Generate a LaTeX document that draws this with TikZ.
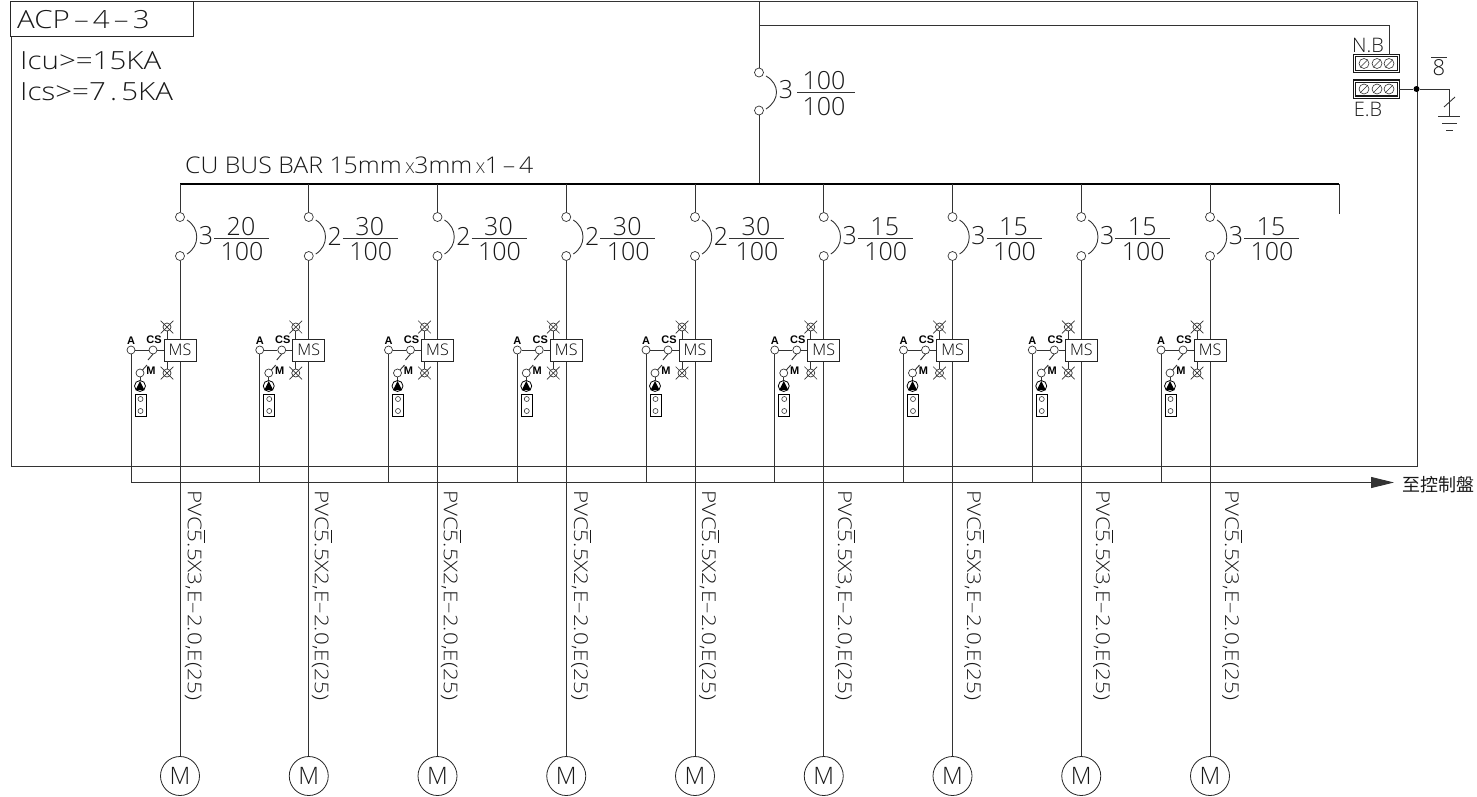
\documentclass[tikz,border=0pt]{standalone}
\usepackage{amsmath}
\usepackage{fontspec}
\setmainfont{Open Sans Light}
\newfontfamily\widefont[FakeStretch=1.18]{Open Sans Light}
\newfontfamily\busfont[FakeStretch=1.08]{Open Sans Light}
\newfontfamily\boldfont{Liberation Sans Bold}
\newfontfamily\cjkfont{Noto Sans CJK TC}
\usepackage{tikz}
\usetikzlibrary{arrows.meta,shapes.misc}

\tikzset{
  wire/.style={line width=0.9pt,black!80},
  term/.style={circle,draw=black!80,line width=0.7pt,fill=white,inner sep=0pt,minimum size=9pt},
  smallterm/.style={term,minimum size=8pt},
  lampx/.style={cross out,draw=black!80,line width=0.7pt,inner sep=0pt,minimum size=12pt},
  numtext/.style={inner sep=0pt,text=black!90,font=\fontsize{25}{25}\selectfont},
  headtext/.style={numtext,anchor=west,font=\widefont\fontsize{25}{25}\selectfont},
  tagtext/.style={inner sep=0pt,font=\boldfont\fontsize{11}{11}\selectfont},
  cabletext/.style={inner sep=0pt,rotate=-90,anchor=west,text=black!90,font=\widefont\fontsize{19}{19}\selectfont},
  busbox/.style={draw=black!90,double,double distance=1pt,line width=1.1pt,fill=white,minimum width=44pt,minimum height=16pt,inner sep=0pt},
  barterm/.style={circle,draw=black!80,line width=0.6pt,inner sep=0pt,minimum size=10pt},
}
\newcommand{\barfive}{$\overline{\mbox{5}}$}

\begin{document}
\begin{tikzpicture}[x=1pt,y=-1pt]
  \useasboundingbox (0,0) rectangle (1477,796);
  % frame and title
  \draw[wire] (11,1) rectangle (1417,466.5);
  \node[draw=black!85,fill=white,line width=0.9pt,minimum width=183pt,minimum height=35pt,inner sep=0pt] (title) at (101.5,18.5) {};
  \node[headtext] (titletext) at (17,20) {ACP\,–\,4\,–\,3};
  \node[headtext] (icu) at (20,61) {Icu>=15KA};
  \node[headtext] (ics) at (20,92) {Ics>=7\,.\,5KA};

  % main breaker and bus
  \coordinate (feedin) at (759,1);
  \coordinate (feedbranch) at (759,25);
  \coordinate (busmain) at (759,184);
  \coordinate (busleft) at (180,184);
  \coordinate (busright) at (1339,184);
  \coordinate (busstub) at (1339,214);
  \node[term] (maintop) at (759,72.5) {};
  \node[term] (mainbot) at (759,110.5) {};
  \draw[wire] (feedin) -- (maintop);
  \draw[wire] (mainbot) -- (busmain);
  \draw[wire] (766,76) .. controls (780,84) and (780,100) .. (766,109);
  \node[numtext] (mainpole) at (786,90) {3};
  \draw[wire] (797,92.5) -- (855,92.5);
  \node[numtext] (mainup) at (824,80.5) {100};
  \node[numtext] (maindown) at (824,107) {100};
  \draw[line width=2.6pt] (busleft) -- (busright);
  \draw[wire] (busright) -- (busstub);
  \node[anchor=west,inner sep=0pt,text=black!90,font=\busfont\fontsize{23}{23}\selectfont] (bustext) at (185,165) {CU BUS BAR 15mm\,{\fontsize{15}{15}\selectfont X}3mm\,{\fontsize{15}{15}\selectfont X}1\,–\,4};

  % neutral and earth bars
  \node[busbox] (nb) at (1376.5,63.5) {};
  \node[busbox] (eb) at (1376.5,89) {};
  \foreach \k in {1364,1377,1389} {
    \node[barterm] (nbt\k) at (\k,63.5) {};
    \draw[black!80,line width=0.6pt] (nbt\k.south west) -- (nbt\k.north east);
    \node[barterm] (ebt\k) at (\k,89) {};
    \draw[black!80,line width=0.6pt] (ebt\k.south west) -- (ebt\k.north east);
  }
  \node[numtext,font=\fontsize{20}{20}\selectfont] (nbtext) at (1368,45) {N.B};
  \node[numtext,font=\fontsize{20}{20}\selectfont] (ebtext) at (1368,109) {E.B};
  \draw[wire] (feedbranch) -| (nb.north -| 1389,0);
  \node[circle,fill=black,inner sep=0pt,minimum size=6pt] (ebdot) at (1416.5,89) {};
  \coordinate (gnd) at (1449,116);
  \draw[wire] (eb) -- (ebdot) -| (gnd);
  \draw[wire] (1444,107) -- (1455,97);
  \draw[wire] (1438,116) -- (1460,116);
  \draw[wire] (1442,123) -- (1457,123);
  \draw[wire] (1446,130) -- (1453,130);
  \node[numtext,font=\fontsize{22}{22}\selectfont] (bartext) at (1439,68) {8};
  \draw[wire] (1431,57) -- (1447,57);

  % motor feeders
  \foreach \i/\colx/\pol/\amp/\labx/\cores in {
    1/180/3/20/195/3, 2/308.75/2/30/322/2, 3/437.5/2/30/451/2,
    4/566.25/2/30/581/2, 5/695/2/30/709/2, 6/823.75/3/15/845/3,
    7/952.5/3/15/974/3, 8/1081.25/3/15/1103/3, 9/1210/3/15/1232/3} {
    \coordinate (tap\i) at (\colx,184);
    \node[term] (top\i) at (\colx,217) {};
    \node[term] (bot\i) at (\colx,256) {};
    \node[circle,draw=black!85,line width=0.8pt,fill=white,minimum size=39pt,inner sep=0pt,text=black!90,font=\fontsize{24}{24}\selectfont] (mot\i) at (\colx,776) {M};
    \draw[wire] (tap\i) -- (top\i);
    \draw[wire] (bot\i) -- (mot\i);
    \draw[wire] (\colx+7,220) .. controls (\colx+20,228) and (\colx+20,246) .. (\colx+7,254);
    \node[numtext] (pole\i) at (\colx+26,236) {\pol};
    \draw[wire] (\colx+34,238) -- (\colx+89,238);
    \node[numtext] (amp\i) at (\colx+61,226.5) {\amp};
    \node[numtext] (frame\i) at (\colx+62,252) {100};
    % starter
    \node[draw=black!85,line width=0.8pt,fill=white,minimum width=32pt,minimum height=22pt,inner sep=0pt,font=\fontsize{16}{16}\selectfont] (ms\i) at (\colx,350) {MS};
    \node[smallterm] (a\i) at (\colx-49,350) {};
    \node[smallterm] (cs\i) at (\colx-27,350) {};
    \coordinate (ctl\i) at (\colx-49,482.5);
    \draw[wire] (a\i) -- (cs\i) -- (ms\i.west |- cs\i);
    \draw[wire] (a\i) -- (ctl\i);
    \draw[wire] (cs\i) ++(0,4) -- ++(-5,6);
    \node[tagtext] (atag\i) at (\colx-49,341) {A};
    \node[tagtext] (cstag\i) at (\colx-26,340) {CS};
    \node[term,minimum size=8pt] (lup\i) at (\colx-13,327) {};
    \node[lampx] (lupx\i) at (\colx-13,327) {};
    \node[term,minimum size=8pt] (ldn\i) at (\colx-13,373) {};
    \node[lampx] (ldnx\i) at (\colx-13,373) {};
    \draw[wire] (lup\i) -- (lup\i |- ms\i.north);
    \draw[wire] (ldn\i) -- (ldn\i |- ms\i.south);
    \node[smallterm] (sel\i) at (\colx-40,373) {};
    \draw[wire] (sel\i) ++(2.5,-3) -- ++(4.5,-5);
    \node[tagtext] (seltag\i) at (\colx-29,371) {M};
    \node[circle,draw=black,line width=0.8pt,fill=white,inner sep=0pt,minimum size=11pt] (pump\i) at (\colx-40,386) {};
    \fill (\colx-40,381) -- (\colx-44.5,390) -- (\colx-35.5,390) -- cycle;
    \draw[wire] (sel\i) -- (pump\i);
    \node[draw=black,line width=0.8pt,fill=white,minimum width=11pt,minimum height=22pt,inner sep=0pt] (tb\i) at (\colx-39.5,405) {};
    \node[circle,draw=black!80,line width=0.6pt,inner sep=0pt,minimum size=5pt] (tbu\i) at (\colx-39.5,399) {};
    \node[circle,draw=black!80,line width=0.6pt,inner sep=0pt,minimum size=5pt] (tbd\i) at (\colx-39.5,411) {};
    % cable
    \node[cabletext] (cable\i) at (\labx,490) {PVC\barfive.5X\cores,E–2.0,E(25)};
  }

  % control line
  \node[anchor=west,inner sep=0pt,text=black!90,font=\cjkfont\fontsize{18}{18}\selectfont] (toctl) at (1402,484.5) {至控制盤};
  \coordinate (arrowend) at (1394,482.5);
  \draw[wire,-{Triangle[length=23pt,width=11pt]}] (ctl1) -- (arrowend);
\end{tikzpicture}
\end{document}
